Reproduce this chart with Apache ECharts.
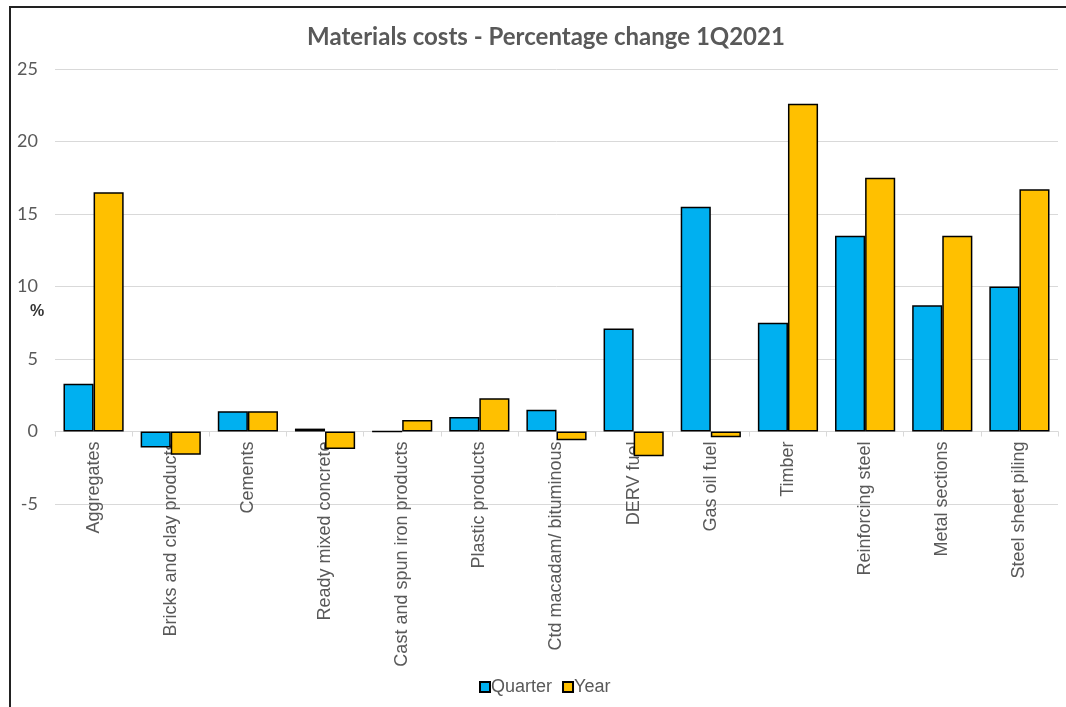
<!DOCTYPE html>
<html>
<head>
<meta charset="utf-8">
<script src="https://cdn.jsdelivr.net/npm/echarts@6/dist/echarts.min.js"></script>
<style>
  html, body { margin: 0; padding: 0; background: #fff; }
  #chart { width: 1066px; height: 707px; }
</style>
</head>
<body>
<div id="chart"></div>
<script>
const categories = [
  "Aggregates",
  "Bricks and clay products",
  "Cements",
  "Ready mixed concrete",
  "Cast and spun iron products",
  "Plastic products",
  "Ctd macadam/ bituminous",
  "DERV fuel",
  "Gas oil fuel",
  "Timber",
  "Reinforcing steel",
  "Metal sections",
  "Steel sheet piling"
];
const quarterValues = [3.3, -1.1, 1.4, 0.2, 0, 1.0, 1.5, 7.1, 15.5, 7.5, 13.5, 8.7, 10.0];
const yearValues = [16.5, -1.6, 1.4, -1.2, 0.8, 2.3, -0.6, -1.7, -0.4, 22.6, 17.5, 13.5, 16.7];
const yTicks = { min: -5, max: 25, step: 5 };

const labelGrey = "#595959";
const chart = echarts.init(document.getElementById("chart"));

// grid spans 69..504 px, zero sits 5/30 of the way up from the bottom
const gridTop = 69;
const gridBottom = 203;
const gridHeight = 707 - gridTop - gridBottom;
const zeroOffset = -gridHeight * (0 - yTicks.min) / (yTicks.max - yTicks.min);

const barStyle = (color) => ({
  color: color,
  borderColor: "#000",
  borderWidth: 1.5
});

chart.setOption({
  animation: false,
  title: {
    text: "Materials costs - Percentage change 1Q2021",
    left: 541,
    textAlign: "center",
    top: 20,
    textStyle: {
      fontFamily: "Lato",
      fontWeight: "bold",
      fontSize: 24,
      color: labelGrey
    }
  },
  legend: {
    bottom: 6,
    left: 474,
    itemWidth: 10,
    itemHeight: 10,
    itemGap: 10,
    textStyle: {
      fontFamily: "Liberation Sans",
      fontSize: 18,
      color: labelGrey,
      padding: [0, 0, 0, -4]
    },
    data: [
      { name: "Quarter", icon: "rect" },
      { name: "Year", icon: "rect" }
    ]
  },
  grid: { left: 55, right: 8, top: gridTop, bottom: gridBottom },
  xAxis: {
    type: "category",
    data: categories,
    offset: zeroOffset,
    axisLine: { onZero: false, lineStyle: { color: "#d9d9d9" } },
    axisTick: { show: true, length: 5, lineStyle: { color: "#d9d9d9" } },
    axisLabel: {
      rotate: 90,
      margin: 10,
      interval: 0,
      fontFamily: "Liberation Sans",
      fontSize: 18,
      color: labelGrey
    }
  },
  yAxis: {
    type: "value",
    min: yTicks.min,
    max: yTicks.max,
    interval: yTicks.step,
    axisLine: { show: false },
    axisTick: { show: false },
    axisLabel: {
      margin: 17,
      fontFamily: "Lato",
      fontSize: 18,
      color: labelGrey
    },
    splitLine: { lineStyle: { color: "#d9d9d9" } }
  },
  graphic: [
    {
      type: "rect",
      shape: { x: 10, y: 7, width: 1080, height: 720 },
      style: { fill: "none", stroke: "#222", lineWidth: 2 },
      silent: true
    },
    {
      type: "text",
      left: 30,
      top: 304,
      style: {
        text: "%",
        fontFamily: "Liberation Sans",
        fontWeight: "bold",
        fontSize: 16,
        fill: "#333"
      }
    }
  ],
  series: [
    {
      name: "Quarter",
      type: "bar",
      data: quarterValues,
      barGap: "0%",
      barCategoryGap: "22%",
      itemStyle: barStyle("#00B0F0")
    },
    {
      name: "Year",
      type: "bar",
      data: yearValues,
      itemStyle: barStyle("#FFC000")
    }
  ]
});
</script>
</body>
</html>
